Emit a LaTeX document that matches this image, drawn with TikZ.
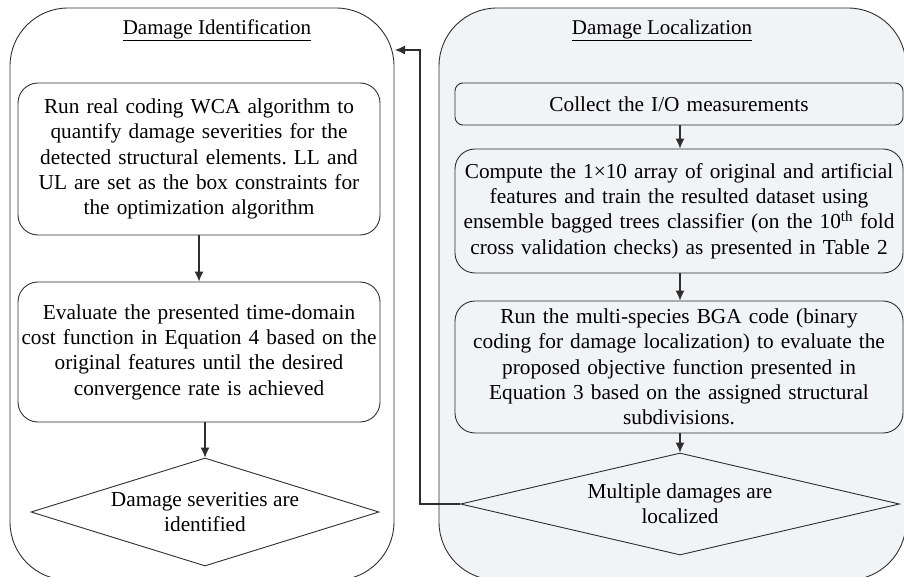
\documentclass[tikz,border=0pt]{standalone}
\usepackage{fontspec}
\setmainfont{Liberation Serif}
\usetikzlibrary{shapes.geometric,arrows.meta}
\definecolor{panelgray}{HTML}{F2F3F5}
\definecolor{linec}{HTML}{2E2E2E}
\tikzset{
  panel/.style={draw=linec, line width=0.9pt, rounded corners=58pt},
  box/.style={draw=linec, line width=0.9pt, rounded corners=20pt, align=center, inner sep=2pt, font=\fontsize{21.3}{25.3}\selectfont},
  dia/.style={draw=linec, line width=0.9pt, diamond, aspect=3.3, align=center, inner sep=0pt, font=\fontsize{21.3}{25.3}\selectfont},
  ttl/.style={font=\fontsize{21}{24}\selectfont, inner sep=1pt},
  arr/.style={draw=linec, line width=1.1pt, -{Latex[length=10pt,width=9pt]}}
}
\begin{document}
\frenchspacing
\begin{tikzpicture}[x=1pt,y=-1pt]
\useasboundingbox (0,0) rectangle (904,577);
\clip (0,0) rectangle (904,577);
% panels
\draw[panel] (10,8) rectangle (394,580);
\draw[panel, fill=panelgray] (439,8) rectangle (906,580);
% titles
\node[ttl] (tL) at (217,30) {\underline{Damage Identification}};
\node[ttl] (tR) at (662,30) {\underline{Damage Localization}};
% left column
\node[box, minimum width=362pt, minimum height=152pt, text width=356pt] (b1) at (199,159)
  {Run real coding WCA algorithm to\\quantify damage severities for the\\detected structural elements. LL and\\UL are set as the box constraints for\\the optimization algorithm};
\node[box, minimum width=362pt, minimum height=140pt, text width=356pt] (b2) at (199,352)
  {Evaluate the presented time-domain\\cost function in Equation 4 based on the\\original features until the desired\\convergence rate is achieved};
\node[dia, minimum width=348pt, minimum height=108pt] (dL) at (205,512)
  {Damage severities are\\identified};
% right column
\node[box, fill=panelgray, rounded corners=8pt, minimum width=448pt, minimum height=42pt, text width=440pt] (r1) at (679,104)
  {Collect the I/O measurements};
\node[box, fill=panelgray, minimum width=448pt, minimum height=124pt, text width=444pt] (r2) at (679,211)
  {Compute the 1×10 array of original and artificial\\features and train the resulted dataset using\\ensemble bagged trees classifier (on the 10\textsuperscript{th} fold\\cross validation checks) as presented in Table 2};
\node[box, fill=panelgray, minimum width=448pt, minimum height=132pt, text width=444pt] (r3) at (679,367)
  {Run the multi-species BGA code (binary\\coding for damage localization) to evaluate the\\proposed objective function presented in\\Equation 3 based on the assigned structural\\subdivisions.};
\node[dia, minimum width=439pt, minimum height=102pt] (dR) at (680,504)
  {Multiple damages are\\localized};
% connectors
\draw[arr] (b1.south) -- (b2.north);
\draw[arr] (b2.south -| dL.north) -- (dL.north);
\draw[arr] (r1.south -| dR.north) -- (r2.north -| dR.north);
\draw[arr] (r2.south -| dR.north) -- (r3.north -| dR.north);
\draw[arr] (r3.south -| dR.north) -- (dR.north);
\coordinate (fb1) at (420,504);
\coordinate (fb2) at (420,50);
\coordinate (fb3) at (395,50);
\draw[arr] (dR.west) -- (fb1) -- (fb2) -- (fb3);
\end{tikzpicture}
\end{document}
